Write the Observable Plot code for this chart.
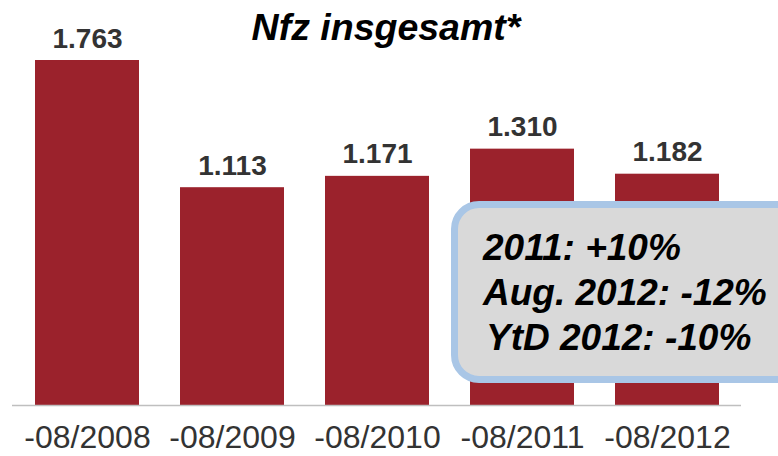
<!DOCTYPE html>
<html>
<head>
<meta charset="utf-8">
<script src="https://cdn.jsdelivr.net/npm/d3@7"></script>
<script src="https://cdn.jsdelivr.net/npm/@observablehq/plot@0.6"></script>
<style>
  html, body { margin: 0; padding: 0; background: #fff; }
  #wrap { position: relative; width: 778px; height: 456px; overflow: hidden; font-family: "Liberation Sans", Arial, sans-serif; }
  #title { position: absolute; left: 0; width: 778px; top: 7px; text-align: center; padding-right: 6px; box-sizing: border-box;
           font-size: 37.5px; font-weight: bold; font-style: italic; color: #000; line-height: 40px; }
  #chart { position: absolute; left: 0; top: 0; }
  #note { position: absolute; left: 451px; top: 201px; width: 400px; height: 182px; box-sizing: border-box;
          background: #d9d9d9; border: 7px solid #a9c6e6; border-radius: 28px;
          font-size: 37px; font-weight: bold; font-style: italic; color: #000; line-height: 45px;
          padding: 17px 0 0 25px; }
  #note div:last-child { padding-left: 3px; }
</style>
</head>
<body>
<div id="wrap">
  <div id="chart"></div>
  <div id="title"></div>
  <div id="note"></div>
</div>
<script>
const title = "Nfz insgesamt*";
const categories = ["-08/2008", "-08/2009", "-08/2010", "-08/2011", "-08/2012"];
const values = [1763, 1113, 1171, 1310, 1182];
const valueLabels = ["1.763", "1.113", "1.171", "1.310", "1.182"];
const noteLines = ["2011: +10%", "Aug. 2012: -12%", "YtD 2012: -10%"];

const data = categories.map((c, i) => ({cat: c, value: values[i], label: valueLabels[i]}));

const chart = Plot.plot({
  width: 778,
  height: 456,
  marginLeft: 12,
  marginRight: 37,
  marginTop: 60,
  marginBottom: 51,
  style: {fontFamily: "Liberation Sans, Arial, sans-serif", background: "transparent"},
  x: {domain: categories, paddingInner: 0.286, paddingOuter: 0.143, label: null},
  y: {domain: [0, 1763], axis: null},
  marks: [
    Plot.barY(data, {x: "cat", y: "value", fill: "#9b222c"}),
    Plot.ruleY([0], {stroke: "#bfbfbf", strokeWidth: 1.5}),
    Plot.text(data, {x: "cat", y: "value", text: "label", lineAnchor: "bottom", dy: -13,
      fontSize: 28, fontWeight: "bold", fill: "#333"}),
    Plot.axisX({tickSize: 0, tickPadding: 20, fontSize: 32, color: "#333", label: null})
  ]
});
document.getElementById("chart").appendChild(chart);
document.getElementById("title").textContent = title;
const note = document.getElementById("note");
noteLines.forEach(t => { const d = document.createElement("div"); d.textContent = t; note.appendChild(d); });
</script>
</body>
</html>
